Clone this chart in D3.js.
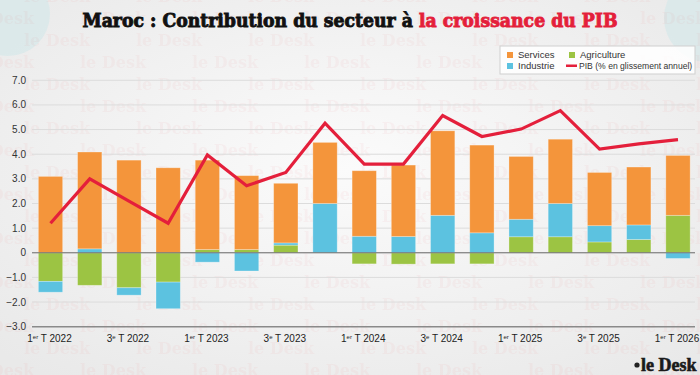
<!DOCTYPE html>
<html>
<head>
<meta charset="utf-8">
<script src="https://cdn.jsdelivr.net/npm/d3@7"></script>
<style>
  body { margin:0; padding:0; background:#f1f1f1; }
  svg { display:block; }
</style>
</head>
<body>
<svg id="chart"></svg>
<script>
// quarters (number, year)
var quarterNum = [1,2,3,4,1,2,3,4,1,2,3,4,1,2,3,4,1];
var quarterYear = [2022,2022,2022,2022,2023,2023,2023,2023,2024,2024,2024,2024,2025,2025,2025,2025,2026];

// contributions (points de %)
var services    = [3.10,3.93,3.76,3.45,3.63,3.00,2.42,2.48,2.66,2.90,3.43,3.56,2.55,2.61,2.16,2.35,2.43];
var industrie   = [-0.44,0.16,-0.30,-1.08,-0.38,-0.74,0.09,2.00,0.67,0.66,1.52,0.81,0.71,1.35,0.66,0.59,-0.23];
var agriculture = [-1.16,-1.32,-1.42,-1.19,0.13,0.13,0.31,0.00,-0.45,-0.46,-0.45,-0.45,0.65,0.65,0.44,0.54,1.52];
var pib         = [1.2,3.0,2.1,1.2,3.97,2.72,3.26,5.26,3.6,3.6,5.57,4.72,5.02,5.77,4.21,4.42,4.59];

var yTicks = [7,6,5,4,3,2,1,0,-1,-2,-3];

var colors = {serv:"#f4953b", ind:"#5cc2e0", agri:"#9cc443", pib:"#e41f3b"};
var sans = "'Liberation Sans', Arial, sans-serif";

var screen = {width:700, height:375};

var svg = d3.select("#chart")
  .attr("width", screen.width)
  .attr("height", screen.height);

// background
var defs = svg.append("defs");
var grad = defs.append("radialGradient").attr("id","bg").attr("cx","50%").attr("cy","45%").attr("r","70%");
grad.append("stop").attr("offset","0%").attr("stop-color","#fbfbfb");
grad.append("stop").attr("offset","100%").attr("stop-color","#e9e9e9");
svg.append("rect").attr("width",screen.width).attr("height",screen.height).attr("fill","url(#bg)");
svg.append("circle").attr("cx",8).attr("cy",14).attr("r",42).attr("fill","#d8e8ea").attr("opacity",0.8);
svg.append("circle").attr("cx",708).attr("cy",18).attr("r",44).attr("fill","#d8e8ea").attr("opacity",0.8);

// watermark as a tiled pattern
var pat = defs.append("pattern").attr("id","wm").attr("patternUnits","userSpaceOnUse")
  .attr("x",-32).attr("y",2).attr("width",112).attr("height",44);
var pg = pat.append("g").attr("fill","#e5484f")
  .style("font-family","'DejaVu Serif', serif").style("font-weight","bold").style("font-size","16px");
pg.append("text").attr("x",0).attr("y",22).text("le Desk");
pg.append("text").attr("x",56).attr("y",44).text("le Desk");
pg.append("text").attr("x",-56).attr("y",44).text("le Desk");
svg.append("rect").attr("width",screen.width).attr("height",screen.height)
  .attr("fill","url(#wm)").attr("opacity",0.05);

// data table
var table = quarterNum.map(function(q,i){
  return {q:q, year:quarterYear[i], serv:services[i], ind:industrie[i], agri:agriculture[i], pib:pib[i], key:q+"-"+quarterYear[i]};
});

var x = d3.scaleBand()
  .domain(table.map(function(d){return d.key}))
  .range([30.9, 697.6])
  .paddingInner(0.38)
  .paddingOuter(0.19);

var y = d3.scaleLinear().domain([-3,7]).range([326.7,80.3]);

// grid
var grid = svg.append("g");
grid.selectAll("line").data(yTicks).enter().append("line")
  .attr("x1",32).attr("x2",695)
  .attr("y1",function(d){return y(d)}).attr("y2",function(d){return y(d)})
  .attr("stroke",function(d){ return d==-3 ? "#8a8a8a" : "#dcdcdc"})
  .attr("stroke-width",function(d){ return d==-3 ? 1.6 : 1});

svg.append("g").selectAll("text").data(yTicks).enter().append("text")
  .attr("x",26).attr("y",function(d){return y(d)+3.5})
  .attr("text-anchor","end")
  .style("font-family",sans).style("font-size","10px").attr("fill","#333")
  .text(function(d){ return d==0 ? "0" : d3.format(".1f")(d)});

// stacked bars
var stack = d3.stack().keys(["agri","ind","serv"]).offset(d3.stackOffsetDiverging);
var series = stack(table);

svg.append("g").selectAll("g").data(series).enter().append("g")
  .attr("fill",function(s){return colors[s.key]})
  .selectAll("rect").data(function(s){return s}).enter().append("rect")
  .attr("x",function(d){return x(d.data.key)})
  .attr("width",x.bandwidth())
  .attr("y",function(d){return y(Math.max(d[0],d[1]))})
  .attr("height",function(d){return Math.abs(y(d[0])-y(d[1]))})
  .attr("stroke","#ffffff").attr("stroke-opacity",0.35).attr("stroke-width",0.8);

// zero line
svg.append("line").attr("x1",32).attr("x2",695).attr("y1",y(0)).attr("y2",y(0))
  .attr("stroke","#6f6f6f").attr("stroke-width",1);

// PIB line
var line = d3.line()
  .x(function(d){return x(d.key)+x.bandwidth()/2})
  .y(function(d){return y(d.pib)});
svg.append("path").datum(table).attr("d",line)
  .attr("fill","none").attr("stroke",colors.pib).attr("stroke-width",3.2)
  .attr("stroke-linejoin","miter");

// x labels
var xl = svg.append("g").selectAll("text")
  .data(table.filter(function(d,i){return i%2==0}))
  .enter().append("text")
  .attr("x",function(d){return x(d.key)+x.bandwidth()/2 - 1})
  .attr("y",342)
  .attr("text-anchor","middle")
  .style("font-family",sans).style("font-size","10px").attr("fill","#222");
xl.append("tspan").text(function(d){return d.q});
xl.append("tspan").attr("dy",-3.5).style("font-size","6px").text(function(d){return d.q==1 ? "er" : "e"});
xl.append("tspan").attr("dy",3.5).text(function(d){return " T " + d.year});

// title
var title = svg.append("text").attr("x",350).attr("y",27).attr("text-anchor","middle")
  .style("font-family","'DejaVu Serif', serif").style("font-weight","bold").style("font-size","18px")
  .attr("textLength",535).attr("lengthAdjust","spacingAndGlyphs")
  .attr("stroke-width",0.9);
title.append("tspan").attr("fill","#111").attr("stroke","#111").text("Maroc : Contribution du secteur à ");
title.append("tspan").attr("fill","#e41f3b").attr("stroke","#e41f3b").text("la croissance du PIB");

// legend
var lg = svg.append("g").style("font-family",sans).attr("fill","#333");
lg.append("rect").attr("x",500).attr("y",46).attr("width",195).attr("height",28)
  .attr("fill","#ffffff").attr("fill-opacity",0.85).attr("stroke","#cfcfcf");
var items = [
  {label:"Services", color:colors.serv, x:507, y:52, kind:"box", fs:9.5},
  {label:"Industrie", color:colors.ind, x:507, y:63, kind:"box", fs:9.5},
  {label:"Agriculture", color:colors.agri, x:569, y:52, kind:"box", fs:9.5},
  {label:"PIB (% en glissement annuel)", color:colors.pib, x:566, y:63, kind:"line", fs:8.6}
];
items.forEach(function(it){
  var tx;
  if (it.kind=="box") {
    lg.append("rect").attr("x",it.x).attr("y",it.y).attr("width",6).attr("height",6).attr("fill",it.color);
    tx = it.x+11;
  } else {
    lg.append("rect").attr("x",it.x).attr("y",it.y+1.5).attr("width",11).attr("height",2.5).attr("fill",it.color);
    tx = it.x+13;
  }
  lg.append("text").attr("x",tx).attr("y",it.y+6).style("font-size",it.fs+"px").text(it.label);
});

// logo
var logo = svg.append("g");
logo.append("circle").attr("cx",637).attr("cy",365).attr("r",2.6).attr("fill","#222");
logo.append("text").attr("x",641).attr("y",371)
  .style("font-family","'Liberation Serif', serif").style("font-weight","bold").style("font-size","18px")
  .attr("fill","#1a1a1a").attr("stroke","#1a1a1a").attr("stroke-width",0.6)
  .text("le Desk");
</script>
</body>
</html>
